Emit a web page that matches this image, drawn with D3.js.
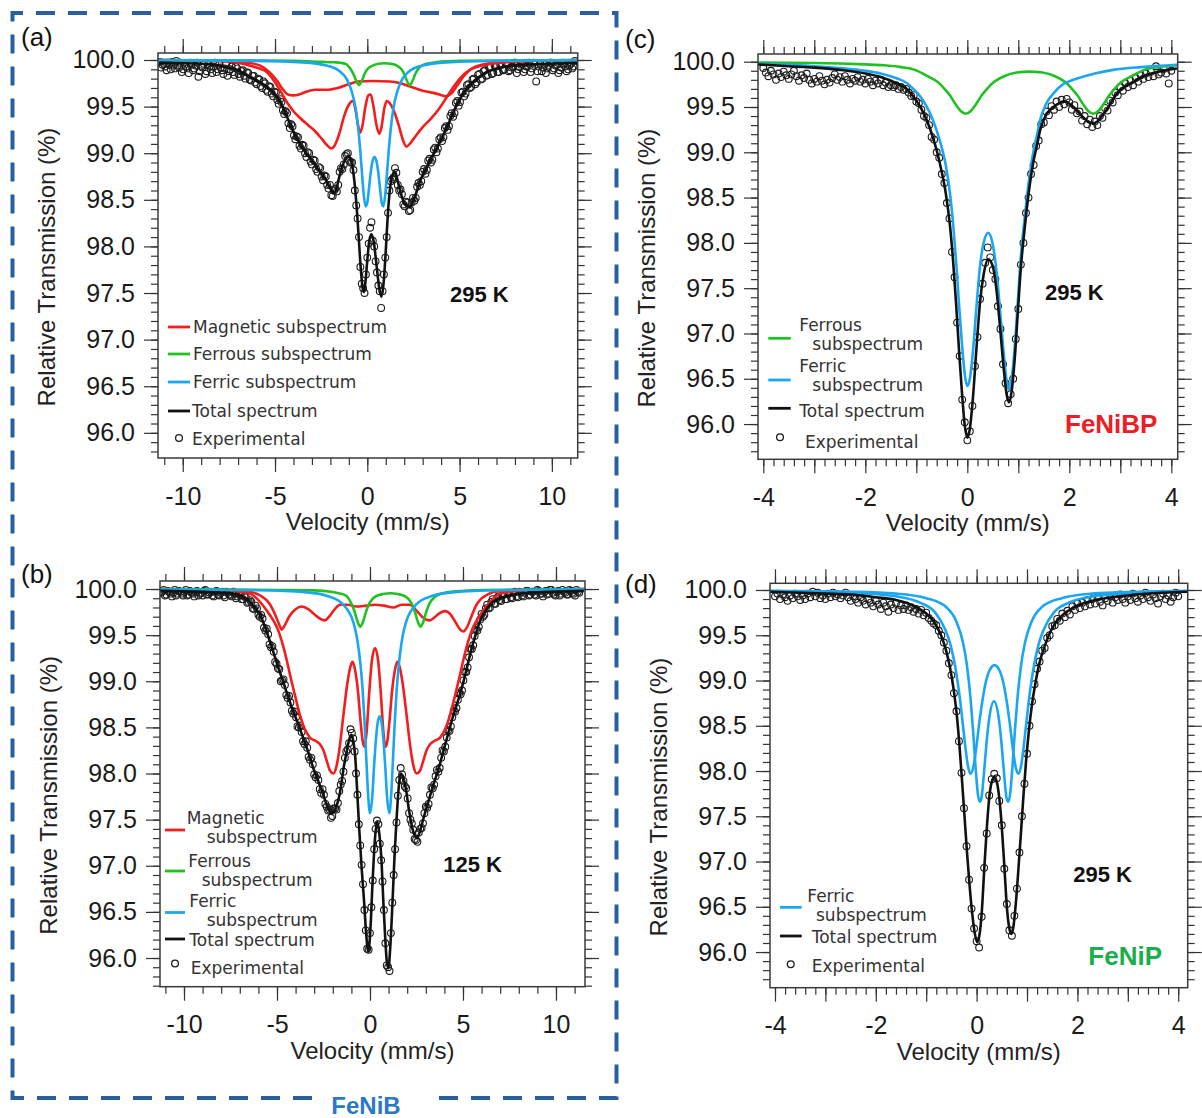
<!doctype html>
<html lang="en">
<head>
<meta charset="utf-8">
<title>Mössbauer spectra: FeNiB, FeNiBP, FeNiP</title>
<script src="https://cdn.jsdelivr.net/npm/d3@7"></script>
<style>
  body { margin: 0; background: #fff; }
  svg { display: block; font-family: "Liberation Sans", Arial, sans-serif; }
</style>
</head>
<body>
<div id="chart"></div>
<script>

// ---------- tick values ----------
var yTickValues = [96.0, 96.5, 97.0, 97.5, 98.0, 98.5, 99.0, 99.5, 100.0];
var yMinorTicks = d3.range(956, 1001).map(function (d) { return d / 10; });
var xTicksWide = [-10, -5, 0, 5, 10];
var xMinorWide = d3.range(-11, 12);
var xTicksNarrow = [-4, -3, -2, -1, 0, 1, 2, 3, 4];
var xMinorNarrow = d3.range(-20, 21).map(function (d) { return d / 5; });

// ---------- panel (a) FeNiB 295 K ----------
var magA1 = [[-11.3,100],[-9,99.995],[-8,99.99],[-7,99.97],[-6.2,99.93],[-5.45,99.87],[-5.0,99.76],[-4.6,99.63],[-4.3,99.53],[-4.0,99.45],[-3.6,99.37],[-3.2,99.3],[-2.8,99.23],[-2.45,99.15],[-2.15,99.08],[-1.95,99.05],[-1.75,99.09],[-1.5,99.22],[-1.25,99.4],[-1.0,99.52],[-0.8,99.56],[-0.65,99.48],[-0.5,99.3],[-0.4,99.22],[-0.28,99.28],[-0.1,99.5],[0.05,99.62],[0.18,99.63],[0.32,99.52],[0.5,99.3],[0.65,99.21],[0.77,99.28],[0.92,99.48],[1.05,99.56],[1.2,99.54],[1.45,99.45],[1.7,99.3],[1.95,99.13],[2.12,99.07],[2.3,99.1],[2.6,99.18],[3.0,99.28],[3.4,99.36],[3.9,99.48],[4.3,99.6],[4.7,99.72],[5.1,99.82],[5.6,99.9],[6.2,99.94],[7.2,99.97],[8.5,99.99],[11.5,100]];
var magA2 = [[-11.3,100],[-8,99.99],[-6.5,99.97],[-5.8,99.94],[-5.3,99.87],[-4.9,99.78],[-4.6,99.69],[-4.3,99.63],[-4.0,99.62],[-3.7,99.63],[-3.3,99.66],[-2.8,99.68],[-2.2,99.68],[-1.6,99.7],[-1.0,99.74],[-0.5,99.77],[0.3,99.775],[1.2,99.77],[1.8,99.75],[2.4,99.71],[3.0,99.67],[3.5,99.65],[3.9,99.63],[4.25,99.61],[4.55,99.64],[4.85,99.72],[5.2,99.82],[5.6,99.9],[6.2,99.95],[7.5,99.98],[11.5,100]];
var ferrousA = [[-11.3,100],[-4,99.99],[-2.5,99.98],[-1.8,99.975],[-1.45,99.97],[-1.15,99.955],[-0.9,99.9],[-0.75,99.85],[-0.65,99.8],[-0.55,99.755],[-0.45,99.73],[-0.35,99.755],[-0.25,99.8],[-0.15,99.85],[0.0,99.9],[0.3,99.94],[0.6,99.96],[0.93,99.965],[1.25,99.96],[1.6,99.94],[1.85,99.9],[2.0,99.85],[2.1,99.8],[2.2,99.755],[2.3,99.73],[2.4,99.755],[2.5,99.8],[2.6,99.85],[2.75,99.9],[3.05,99.95],[3.7,99.975],[5,99.99],[11.5,100]];
var ferricA = [[-11.3,99.998],[-6,99.99],[-3.5,99.974],[-2.2,99.94],[-1.5,99.88],[-1.1,99.79],[-0.84,99.66],[-0.64,99.49],[-0.49,99.26],[-0.39,99.05],[-0.29,98.79],[-0.19,98.55],[-0.09,98.43],[-0.01,98.46],[0.09,98.62],[0.19,98.8],[0.29,98.92],[0.39,98.96],[0.49,98.92],[0.59,98.8],[0.69,98.62],[0.79,98.46],[0.87,98.43],[0.97,98.55],[1.07,98.79],[1.17,99.05],[1.27,99.26],[1.42,99.49],[1.62,99.66],[1.88,99.79],[2.28,99.88],[2.98,99.94],[4.28,99.974],[6.78,99.99],[11.5,99.998]];
var totalA = [[-11.3,99.97],[-9,99.96],[-8,99.94],[-7.5,99.92],[-7,99.89],[-6.4,99.82],[-5.8,99.76],[-5.3,99.69],[-5.0,99.63],[-4.75,99.56],[-4.5,99.46],[-4.2,99.32],[-3.9,99.19],[-3.65,99.1],[-3.3,99.0],[-2.95,98.91],[-2.6,98.81],[-2.2,98.7],[-2.0,98.62],[-1.85,98.57],[-1.7,98.6],[-1.55,98.72],[-1.35,98.86],[-1.05,98.97],[-0.85,98.9],[-0.7,98.7],[-0.55,98.35],[-0.45,98.05],[-0.35,97.75],[-0.25,97.55],[-0.18,97.51],[-0.1,97.62],[0.0,97.85],[0.1,98.05],[0.22,98.13],[0.35,98.05],[0.5,97.8],[0.65,97.55],[0.77,97.46],[0.88,97.6],[1.0,97.95],[1.1,98.3],[1.22,98.6],[1.35,98.75],[1.5,98.8],[1.65,98.7],[1.8,98.58],[2.0,98.47],[2.3,98.42],[2.55,98.52],[2.9,98.72],[3.2,98.84],[3.5,98.96],[3.75,99.05],[4.0,99.15],[4.3,99.27],[4.6,99.41],[4.85,99.52],[5.2,99.64],[5.55,99.73],[6.0,99.81],[6.45,99.87],[7.0,99.91],[7.5,99.93],[8.5,99.95],[10,99.96],[11.4,99.97]];
// experimental, even channels: -11.25 mm/s, step 0.15 mm/s
var expA = [
99.98,99.95,99.93,99.97,99.90,99.94,99.99,99.92,99.87,99.95,
99.91,99.97,99.89,99.94,99.82,99.93,99.96,99.88,99.93,99.86,
99.97,99.90,99.92,99.85,99.95,99.88,99.93,99.84,99.91,99.82,
99.89,99.80,99.86,99.78,99.83,99.74,99.79,99.70,99.75,99.66,
99.71,99.61,99.65,99.53,99.55,99.42,99.43,99.27,99.29,99.15,
99.17,99.05,99.08,98.96,99.00,98.88,98.92,98.80,98.84,98.71,
98.75,98.62,98.55,98.60,98.59,98.80,98.83,98.97,99.00,98.90,
98.82,98.44,98.10,97.60,97.50,97.88,98.20,98.06,97.84,97.58,
97.34,97.70,98.10,98.60,98.72,98.84,98.66,98.61,98.45,98.48,
98.38,98.47,98.49,98.64,98.66,98.80,98.78,98.92,98.90,99.04,
99.01,99.15,99.13,99.27,99.25,99.40,99.39,99.54,99.51,99.65,
99.61,99.73,99.70,99.79,99.74,99.84,99.79,99.88,99.83,99.92,
99.85,99.94,99.87,99.95,99.89,99.96,99.88,99.92,99.97,99.86,
99.93,99.96,99.90,99.94,99.87,99.97,99.77,99.93,99.88,99.95,
99.91,99.97,99.89,99.94,99.86,99.92,99.96,99.88,99.94,99.91,
99.99];
// experimental, odd channels: -11.175 mm/s, step 0.15 mm/s
var expA2 = [
99.92,99.96,99.89,99.95,99.98,99.91,99.94,99.97,99.90,99.93,
99.86,99.95,99.91,99.97,99.88,99.92,99.85,99.95,99.90,99.93,
99.87,99.95,99.89,99.91,99.83,99.90,99.87,99.93,99.85,99.88,
99.83,99.87,99.79,99.83,99.76,99.80,99.72,99.77,99.68,99.72,
99.64,99.66,99.57,99.58,99.46,99.45,99.32,99.31,99.19,99.18,
99.08,99.09,99.00,99.01,98.91,98.93,98.83,98.85,98.75,98.76,
98.66,98.66,98.54,98.62,98.66,98.84,98.88,98.99,98.92,98.90,
98.60,98.30,97.78,97.55,97.70,98.03,98.26,98.00,97.72,97.52,
97.52,97.88,98.36,98.70,98.74,98.79,98.60,98.56,98.43,98.47,
98.39,98.52,98.52,98.68,98.70,98.83,98.82,98.94,98.93,99.06,
99.05,99.17,99.17,99.29,99.29,99.43,99.43,99.56,99.55,99.66,
99.64,99.74,99.71,99.80,99.76,99.85,99.80,99.89,99.84,99.92,
99.86,99.93,99.87,99.95,99.90,99.96,99.89,99.93,99.97,99.90,
99.95,99.87,99.93,99.97,99.91,99.95,99.88,99.96,99.92,99.86,
99.94,99.97,99.91,99.95,99.89,99.97,99.93,99.90,99.96,99.93];

// ---------- panel (b) FeNiB 125 K ----------
var magB1 = [[-11.3,100],[-8,99.99],[-7,99.97],[-6.45,99.95],[-6,99.88],[-5.6,99.78],[-5.2,99.66],[-4.95,99.56],[-4.75,99.44],[-4.5,99.25],[-4.3,99.07],[-4.0,98.82],[-3.76,98.63],[-3.5,98.48],[-3.23,98.39],[-2.9,98.35],[-2.7,98.32],[-2.5,98.25],[-2.3,98.12],[-2.15,98.03],[-1.97,98.0],[-1.8,98.08],[-1.62,98.3],[-1.43,98.63],[-1.2,99.0],[-1.05,99.16],[-0.93,99.21],[-0.8,99.12],[-0.65,98.9],[-0.5,98.55],[-0.4,98.36],[-0.3,98.29],[-0.18,98.45],[-0.05,98.85],[0.1,99.22],[0.27,99.36],[0.44,99.22],[0.59,98.85],[0.72,98.45],[0.84,98.29],[0.94,98.36],[1.04,98.55],[1.19,98.9],[1.34,99.12],[1.47,99.21],[1.59,99.16],[1.74,99.0],[1.97,98.63],[2.16,98.3],[2.34,98.08],[2.51,98.0],[2.69,98.03],[2.84,98.12],[3.04,98.25],[3.24,98.32],[3.44,98.35],[3.77,98.39],[4.04,98.48],[4.3,98.63],[4.54,98.82],[4.84,99.07],[5.04,99.25],[5.29,99.44],[5.49,99.56],[5.74,99.66],[6.14,99.78],[6.54,99.88],[6.99,99.95],[7.54,99.97],[8.54,99.99],[11.6,100]];
var magB2 = [[-11.3,100],[-8,99.99],[-6.5,99.97],[-5.9,99.93],[-5.4,99.84],[-5.05,99.7],[-4.85,99.6],[-4.75,99.56],[-4.6,99.6],[-4.35,99.7],[-4.0,99.78],[-3.67,99.81],[-3.3,99.78],[-2.9,99.71],[-2.6,99.67],[-2.42,99.66],[-2.2,99.7],[-1.9,99.78],[-1.61,99.83],[-1.2,99.83],[-0.72,99.81],[-0.2,99.82],[0.27,99.83],[0.74,99.82],[1.26,99.8],[1.7,99.83],[2.15,99.83],[2.44,99.78],[2.8,99.7],[3.0,99.67],[3.23,99.66],[3.45,99.69],[3.75,99.74],[4.03,99.76],[4.35,99.72],[4.6,99.64],[4.85,99.56],[5.02,99.54],[5.2,99.58],[5.45,99.7],[5.7,99.82],[5.91,99.88],[6.3,99.94],[7,99.98],[8.5,99.99],[11.6,100]];
var ferrousB = [[-11.3,100],[-5,99.99],[-3,99.985],[-2.1,99.97],[-1.7,99.955],[-1.3,99.93],[-1.02,99.85],[-0.82,99.75],[-0.72,99.68],[-0.62,99.62],[-0.52,99.59],[-0.42,99.62],[-0.32,99.68],[-0.22,99.75],[-0.02,99.85],[0.3,99.92],[0.7,99.945],[1.1,99.955],[1.5,99.945],[1.9,99.92],[2.22,99.85],[2.42,99.75],[2.52,99.68],[2.62,99.62],[2.72,99.59],[2.82,99.62],[2.92,99.68],[3.02,99.75],[3.22,99.85],[3.52,99.92],[3.92,99.955],[4.6,99.975],[6,99.99],[11.6,100]];
var ferricB = [[-11.3,99.997],[-6,99.987],[-3.5,99.966],[-2.3,99.925],[-1.7,99.875],[-1.3,99.8],[-1.0,99.7],[-0.8,99.57],[-0.65,99.41],[-0.5,99.16],[-0.4,98.92],[-0.3,98.59],[-0.2,98.17],[-0.1,97.77],[0.0,97.57],[0.12,97.74],[0.22,98.08],[0.32,98.37],[0.42,98.56],[0.52,98.62],[0.62,98.56],[0.72,98.37],[0.82,98.08],[0.92,97.74],[1.04,97.57],[1.14,97.77],[1.24,98.17],[1.34,98.59],[1.44,98.92],[1.54,99.16],[1.69,99.41],[1.84,99.57],[2.04,99.7],[2.34,99.8],[2.74,99.875],[3.34,99.925],[4.54,99.966],[7.04,99.987],[11.6,99.997]];
var totalB = [[-11.3,99.98],[-9,99.97],[-8,99.96],[-7.35,99.95],[-6.9,99.92],[-6.45,99.86],[-6.2,99.8],[-5.91,99.72],[-5.56,99.54],[-5.2,99.32],[-4.9,99.13],[-4.66,98.99],[-4.4,98.83],[-4.12,98.67],[-3.85,98.53],[-3.58,98.38],[-3.3,98.22],[-3.05,98.06],[-2.75,97.9],[-2.51,97.77],[-2.25,97.62],[-2.06,97.57],[-1.85,97.62],[-1.61,97.8],[-1.4,98.08],[-1.25,98.24],[-1.1,98.38],[-1.0,98.42],[-0.88,98.33],[-0.8,98.2],[-0.7,97.85],[-0.57,97.37],[-0.45,96.98],[-0.32,96.62],[-0.2,96.25],[-0.09,96.07],[0.02,96.3],[0.14,96.83],[0.27,97.3],[0.39,97.48],[0.5,97.35],[0.63,97.01],[0.72,96.6],[0.81,96.25],[0.9,95.97],[0.99,95.89],[1.1,96.15],[1.22,96.65],[1.33,97.15],[1.43,97.51],[1.55,97.86],[1.65,98.0],[1.8,97.95],[1.94,97.82],[2.1,97.6],[2.24,97.44],[2.4,97.33],[2.51,97.3],[2.65,97.35],[2.87,97.51],[3.1,97.67],[3.41,97.88],[3.7,98.06],[3.94,98.24],[4.2,98.43],[4.48,98.63],[4.75,98.8],[5.02,98.99],[5.25,99.18],[5.47,99.36],[5.7,99.52],[5.91,99.65],[6.2,99.76],[6.45,99.83],[7.0,99.9],[7.53,99.93],[8.5,99.96],[9.68,99.97],[11.5,99.98]];
// experimental, even channels: -11.25 mm/s, step 0.15 mm/s
var expB = [
99.96,99.99,99.94,99.97,99.92,99.99,99.95,99.97,99.93,99.99,
99.94,99.96,99.92,99.98,99.95,99.93,99.99,99.94,99.97,99.92,
99.98,99.93,99.97,99.91,99.96,99.93,99.97,99.90,99.95,99.89,
99.92,99.85,99.88,99.79,99.82,99.72,99.72,99.58,99.57,99.40,
99.38,99.21,99.14,99.00,99.02,98.85,98.84,98.68,98.67,98.51,
98.52,98.35,98.35,98.18,98.17,97.99,97.98,97.83,97.83,97.67,
97.60,97.52,97.62,97.61,97.81,97.92,98.17,98.26,98.48,98.38,
98.00,97.45,97.01,96.52,96.10,96.27,96.84,97.40,97.45,97.06,
96.52,95.92,95.86,96.60,97.18,97.76,98.06,97.92,97.84,97.57,
97.46,97.29,97.26,97.40,97.46,97.64,97.67,97.85,97.88,98.04,
98.06,98.25,98.29,98.47,98.51,98.68,98.71,98.87,98.90,99.10,
99.15,99.35,99.39,99.56,99.59,99.73,99.72,99.83,99.80,99.89,
99.84,99.92,99.87,99.94,99.89,99.96,99.90,99.97,99.91,99.96,
99.92,99.98,99.93,99.97,99.94,99.99,99.95,99.92,99.98,99.95,
99.99,99.94,99.97,99.93,99.99,99.96,99.94,99.98,99.95,99.99,
99.96];
// experimental, odd channels: -11.175 mm/s, step 0.15 mm/s
var expB2 = [
99.97,99.93,99.98,99.95,99.96,99.93,99.98,99.95,99.97,99.93,
99.98,99.95,99.97,99.93,99.96,99.98,99.94,99.96,99.93,99.97,
99.94,99.96,99.93,99.97,99.94,99.92,99.95,99.92,99.93,99.89,
99.91,99.86,99.86,99.78,99.79,99.70,99.68,99.55,99.51,99.37,
99.32,99.19,99.13,99.01,98.96,98.82,98.77,98.65,98.61,98.50,
98.45,98.32,98.28,98.15,98.10,97.96,97.93,97.79,97.77,97.64,
97.61,97.54,97.62,97.68,97.88,98.02,98.24,98.33,98.44,98.24,
97.77,97.22,96.80,96.30,96.09,96.55,97.18,97.49,97.24,96.83,
96.16,95.90,96.27,96.90,97.47,97.93,97.99,97.86,97.73,97.50,
97.39,97.28,97.36,97.41,97.57,97.63,97.77,97.84,97.97,98.02,
98.17,98.24,98.39,98.46,98.61,98.67,98.80,98.86,99.01,99.10,
99.26,99.35,99.49,99.55,99.67,99.70,99.79,99.79,99.86,99.84,
99.90,99.88,99.93,99.89,99.95,99.91,99.96,99.92,99.97,99.93,
99.96,99.98,99.94,99.97,99.93,99.98,99.95,99.97,99.94,99.99,
99.96,99.93,99.98,99.95,99.97,99.94,99.99,99.96,99.93,99.97];

// ---------- panel (c) FeNiBP 295 K ----------
var ferrousC = [[-4.12,99.99],[-3,99.985],[-2.5,99.98],[-2,99.97],[-1.63,99.96],[-1.3,99.94],[-1.03,99.91],[-0.78,99.84],[-0.58,99.775],[-0.43,99.69],[-0.33,99.62],[-0.23,99.53],[-0.13,99.456],[-0.03,99.425],[0.07,99.456],[0.17,99.53],[0.27,99.62],[0.37,99.69],[0.52,99.775],[0.72,99.84],[0.97,99.88],[1.22,99.89],[1.47,99.88],[1.72,99.84],[1.92,99.775],[2.07,99.69],[2.17,99.62],[2.27,99.53],[2.37,99.456],[2.47,99.425],[2.57,99.456],[2.67,99.53],[2.77,99.62],[2.87,99.69],[3.02,99.775],[3.22,99.84],[3.47,99.91],[3.75,99.94],[4.11,99.96]];
var ferricC = [[-4.12,99.975],[-3.5,99.965],[-3,99.95],[-2.5,99.93],[-2,99.9],[-1.7,99.87],[-1.4,99.82],[-1.2,99.77],[-1.06,99.7],[-0.9,99.6],[-0.73,99.43],[-0.6,99.24],[-0.5,99.05],[-0.42,98.85],[-0.34,98.55],[-0.28,98.22],[-0.22,97.8],[-0.16,97.3],[-0.1,96.85],[-0.05,96.55],[0,96.42],[0.05,96.5],[0.11,96.8],[0.18,97.3],[0.25,97.75],[0.32,98.0],[0.41,98.11],[0.5,97.98],[0.58,97.65],[0.65,97.2],[0.71,96.8],[0.77,96.48],[0.82,96.38],[0.87,96.5],[0.93,96.85],[0.99,97.35],[1.05,97.85],[1.12,98.25],[1.2,98.65],[1.29,98.99],[1.37,99.2],[1.43,99.36],[1.55,99.54],[1.69,99.65],[1.9,99.76],[2.08,99.8],[2.5,99.87],[2.86,99.91],[3.4,99.94],[3.97,99.96],[4.11,99.965]];
var totalC = [[-4.12,99.97],[-3.5,99.95],[-3.0,99.935],[-2.5,99.91],[-2.0,99.87],[-1.7,99.83],[-1.4,99.765],[-1.2,99.705],[-1.06,99.615],[-0.9,99.48],[-0.73,99.26],[-0.6,99.02],[-0.5,98.78],[-0.42,98.54],[-0.34,98.19],[-0.28,97.81],[-0.22,97.33],[-0.16,96.79],[-0.1,96.31],[-0.05,95.985],[0,95.85],[0.05,95.95],[0.11,96.29],[0.18,96.84],[0.25,97.35],[0.32,97.65],[0.41,97.82],[0.5,97.74],[0.58,97.44],[0.65,97.015],[0.71,96.635],[0.77,96.33],[0.82,96.24],[0.87,96.365],[0.93,96.725],[0.99,97.23],[1.05,97.73],[1.12,98.135],[1.2,98.54],[1.29,98.88],[1.37,99.09],[1.43,99.25],[1.55,99.42],[1.69,99.5],[1.9,99.56],[2.08,99.5],[2.2,99.43],[2.3,99.37],[2.4,99.33],[2.47,99.32],[2.55,99.34],[2.65,99.41],[2.77,99.5],[2.87,99.6],[3.02,99.695],[3.22,99.765],[3.47,99.845],[3.75,99.89],[4.11,99.925]];
// experimental channels: -4.00 mm/s, step 0.05 mm/s
var expC = [
99.93,99.88,99.84,99.90,99.86,99.80,99.87,99.83,99.89,99.85,
99.81,99.86,99.90,99.84,99.79,99.85,99.82,99.87,99.80,99.76,
99.81,99.78,99.84,99.79,99.75,99.80,99.77,99.82,99.86,99.80,
99.83,99.78,99.84,99.80,99.76,99.81,99.79,99.83,99.78,99.80,
99.76,99.81,99.78,99.74,99.79,99.76,99.80,99.74,99.77,99.72,
99.74,99.72,99.74,99.70,99.72,99.69,99.70,99.66,99.62,99.63,
99.56,99.54,99.47,99.40,99.38,99.30,99.17,99.14,99.00,98.94,
98.76,98.66,98.44,98.27,97.90,97.62,97.12,96.75,96.27,96.02,
95.82,95.92,96.20,96.64,96.96,97.38,97.55,97.78,97.95,97.84,
97.70,97.60,97.30,97.05,96.66,96.45,96.23,96.33,96.50,96.94,
97.27,97.76,98.00,98.33,98.50,98.76,98.86,99.07,99.13,99.31,
99.33,99.45,99.41,99.51,99.47,99.56,99.50,99.58,99.53,99.59,
99.55,99.47,99.52,99.43,99.45,99.35,99.40,99.31,99.36,99.28,
99.34,99.30,99.40,99.38,99.49,99.46,99.57,99.55,99.66,99.63,
99.72,99.68,99.76,99.72,99.79,99.74,99.82,99.78,99.85,99.81,
99.87,99.83,99.89,99.84,99.95,99.86,99.88,99.92,99.87,99.76,
99.90];

// ---------- panel (d) FeNiP 295 K ----------
var ferricD1 = [[-4.1,99.987],[-2.5,99.97],[-1.6,99.93],[-1.12,99.86],[-0.82,99.75],[-0.62,99.56],[-0.52,99.4],[-0.42,99.14],[-0.37,98.96],[-0.32,98.75],[-0.27,98.5],[-0.22,98.25],[-0.17,98.05],[-0.12,97.97],[-0.07,98.03],[-0.02,98.2],[0.055,98.54],[0.105,98.74],[0.155,98.91],[0.255,99.11],[0.355,99.17],[0.455,99.11],[0.555,98.91],[0.605,98.74],[0.655,98.54],[0.73,98.2],[0.78,98.03],[0.83,97.97],[0.88,98.05],[0.93,98.25],[0.98,98.5],[1.03,98.75],[1.08,98.96],[1.13,99.14],[1.23,99.4],[1.33,99.56],[1.53,99.75],[1.83,99.86],[2.31,99.93],[3.21,99.97],[4.2,99.987]];
var ferricD2 = [[-4.1,99.99],[-2.5,99.98],[-1.6,99.96],[-1.0,99.91],[-0.6,99.81],[-0.4,99.65],[-0.27,99.42],[-0.19,99.16],[-0.12,98.8],[-0.07,98.45],[-0.02,98.04],[0.02,97.77],[0.06,97.66],[0.095,97.7],[0.145,97.97],[0.195,98.3],[0.245,98.56],[0.345,98.77],[0.445,98.56],[0.495,98.3],[0.545,97.97],[0.595,97.7],[0.63,97.66],[0.67,97.77],[0.71,98.04],[0.76,98.45],[0.81,98.8],[0.88,99.16],[0.96,99.42],[1.09,99.65],[1.29,99.81],[1.69,99.91],[2.29,99.96],[3.19,99.98],[4.2,99.99]];
var totalD = [[-4.1,99.98],[-3,99.96],[-2.5,99.95],[-2,99.92],[-1.6,99.89],[-1.4,99.86],[-1.2,99.81],[-1.0,99.74],[-0.85,99.65],[-0.72,99.52],[-0.62,99.36],[-0.53,99.15],[-0.45,98.88],[-0.39,98.6],[-0.34,98.28],[-0.29,97.9],[-0.24,97.5],[-0.19,97.1],[-0.14,96.74],[-0.09,96.44],[-0.04,96.22],[0.01,96.11],[0.06,96.2],[0.1,96.42],[0.15,96.9],[0.2,97.35],[0.25,97.7],[0.3,97.88],[0.35,97.93],[0.4,97.88],[0.45,97.7],[0.5,97.38],[0.55,96.95],[0.6,96.5],[0.65,96.26],[0.69,96.2],[0.73,96.28],[0.78,96.55],[0.83,96.92],[0.88,97.32],[0.93,97.73],[0.98,98.1],[1.04,98.46],[1.1,98.74],[1.17,98.98],[1.25,99.2],[1.35,99.38],[1.5,99.58],[1.7,99.72],[1.9,99.8],[2.3,99.88],[3,99.94],[4.2,99.98]];
// experimental channels: -4.00 mm/s, step 0.05 mm/s
var expD = [
99.93,99.96,99.90,99.95,99.92,99.88,99.94,99.91,99.96,99.93,
99.89,99.94,99.90,99.96,99.92,99.98,99.93,99.97,99.91,99.94,
99.90,99.96,99.92,99.97,99.93,99.95,99.91,99.94,99.97,99.92,
99.88,99.93,99.90,99.86,99.92,99.88,99.84,99.90,99.86,99.82,
99.88,99.84,99.79,99.86,99.82,99.76,99.84,99.80,99.85,99.78,
99.83,99.79,99.83,99.78,99.81,99.76,99.79,99.74,99.78,99.72,
99.75,99.69,99.66,99.63,99.61,99.55,99.50,99.42,99.33,99.19,
99.06,98.86,98.66,98.33,97.98,97.59,97.17,96.80,96.48,96.26,
96.12,96.05,96.39,96.93,97.31,97.73,97.91,97.97,97.92,97.67,
97.40,96.92,96.53,96.24,96.18,96.40,96.70,97.10,97.50,97.86,
98.19,98.50,98.77,98.96,99.13,99.21,99.33,99.36,99.47,99.50,
99.60,99.61,99.68,99.66,99.74,99.70,99.77,99.73,99.82,99.78,
99.85,99.80,99.86,99.82,99.89,99.84,99.90,99.85,99.92,99.87,
99.83,99.91,99.88,99.93,99.86,99.92,99.89,99.95,99.90,99.86,
99.93,99.89,99.96,99.91,99.87,99.94,99.90,99.97,99.92,99.88,
99.95,99.91,99.85,99.93,99.96,99.90,99.94,99.87,99.92,99.97,
99.93];

// ---------- styles ----------
var colors = {
  mag: "#f21d1d",
  ferrous: "#20c120",
  ferric: "#1aa6f0",
  total: "#111111",
  exp: "#1c1c1c",
  frame: "#3a3a3a",
  box: "#2a5f9f"
};

// ---------- layout of each panel ----------
var panels = [
  {
    left: 158, top: 53, right: 577.7, bottom: 458,
    xDom: [-11.34, 11.40], yDom: [95.73, 100.075], wide: true,
    comps: [[magA2, "mag"], [magA1, "mag"], [ferrousA, "ferrous"], [ferricA, "ferric"]],
    total: totalA, exps: [[expA, -11.25, 0.15], [expA2, -11.175, 0.15]],
    label: "(a)", labelX: 21, labelY: 46,
    temp: "295 K", tempX: 450, tempY: 302,
    legend: [
      { c: "mag", x1: 168, x2: 190, y: 327, text: [["Magnetic subspectrum", 193, 332.5]] },
      { c: "ferrous", x1: 168, x2: 190, y: 354, text: [["Ferrous subspectrum", 193, 359.5]] },
      { c: "ferric", x1: 168, x2: 190, y: 382, text: [["Ferric subspectrum", 193, 388]] },
      { c: "total", x1: 168, x2: 190, y: 411, text: [["Total spectrum", 192, 417]] },
      { c: "exp", cx: 179, y: 438, text: [["Experimental", 192, 445]] }
    ]
  },
  {
    left: 160, top: 581, right: 585, bottom: 986.7,
    xDom: [-11.29, 11.56], yDom: [95.689, 100.087], wide: true,
    comps: [[magB2, "mag"], [magB1, "mag"], [ferrousB, "ferrous"], [ferricB, "ferric"]],
    total: totalB, exps: [[expB, -11.25, 0.15], [expB2, -11.175, 0.15]],
    label: "(b)", labelX: 21, labelY: 583,
    temp: "125 K", tempX: 443.3, tempY: 872.3,
    legend: [
      { c: "mag", x1: 165, x2: 185, y: 830, text: [["Magnetic", 186.7, 823.5], ["subspectrum", 206.7, 843]] },
      { c: "ferrous", x1: 165, x2: 185, y: 871, text: [["Ferrous", 188.3, 866.5], ["subspectrum", 201.7, 885.5]] },
      { c: "ferric", x1: 165, x2: 185, y: 912.5, text: [["Ferric", 189.3, 907], ["subspectrum", 206.7, 926]] },
      { c: "total", x1: 165, x2: 185, y: 939, text: [["Total spectrum", 189.3, 945.5]] },
      { c: "exp", cx: 175, y: 963.5, text: [["Experimental", 190.7, 974.3]] }
    ]
  },
  {
    left: 758, top: 54, right: 1177.7, bottom: 459.3,
    xDom: [-4.104, 4.125], yDom: [95.611, 100.085], wide: false,
    comps: [[ferrousC, "ferrous"], [ferricC, "ferric"]],
    total: totalC, exps: [[expC, -4.0, 0.05]],
    label: "(c)", labelX: 625, labelY: 48,
    temp: "295 K", tempX: 1045, tempY: 300,
    legend: [
      { c: "ferrous", x1: 768.3, x2: 790.7, y: 338.3, text: [["Ferrous", 799.3, 330.5], ["subspectrum", 812.3, 349.5]] },
      { c: "ferric", x1: 768.3, x2: 790.7, y: 380, text: [["Ferric", 799.3, 371.5], ["subspectrum", 812.3, 390.5]] },
      { c: "total", x1: 768.3, x2: 790.7, y: 408.3, text: [["Total spectrum", 799.3, 416.7]] },
      { c: "exp", cx: 780, y: 437.3, text: [["Experimental", 805, 448.3]] }
    ]
  },
  {
    left: 770, top: 583.3, right: 1187.7, bottom: 987.7,
    xDom: [-4.099, 4.188], yDom: [95.606, 100.074], wide: false,
    comps: [[ferricD1, "ferric"], [ferricD2, "ferric"]],
    total: totalD, exps: [[expD, -4.0, 0.05]],
    label: "(d)", labelX: 625, labelY: 593,
    temp: "295 K", tempX: 1073.3, tempY: 881.7,
    legend: [
      { c: "ferric", x1: 780, x2: 801.7, y: 907.3, text: [["Ferric", 807.3, 902], ["subspectrum", 816, 921]] },
      { c: "total", x1: 780, x2: 801.7, y: 936, text: [["Total spectrum", 811.7, 942.7]] },
      { c: "exp", cx: 790.7, y: 964.3, text: [["Experimental", 811.7, 971.7]] }
    ]
  }
];

var svg = d3.select("#chart").append("svg")
    .attr("width", 1202)
    .attr("height", 1118);

// dashed box round the FeNiB panels (a) and (b)
svg.append("path")
    .attr("d", "M312,1098 H12.5 V13 H616.5 V1098 H428")
    .attr("fill", "none")
    .attr("stroke", colors.box)
    .attr("stroke-width", 4)
    .attr("stroke-dasharray", "19,13");

// style one axis group
function styleAxis(g, fontSize) {
    g.select(".domain").remove();
    g.attr("font-size", null).attr("font-family", null);
    g.selectAll(".tick line").attr("stroke", "#333").attr("stroke-width", 1.2);
    g.selectAll(".tick text")
        .attr("fill", "#1a1a1a")
        .style("font-size", fontSize + "px");
}

function drawPanel(p, idx) {
    var x = d3.scaleLinear().domain(p.xDom).range([p.left, p.right]);
    var y = d3.scaleLinear().domain(p.yDom).range([p.bottom, p.top]);
    var g = svg.append("g");

    var clipId = "clip" + idx;
    g.append("clipPath").attr("id", clipId)
        .append("rect")
        .attr("x", p.left).attr("y", p.top)
        .attr("width", p.right - p.left).attr("height", p.bottom - p.top);

    var yMinor = yMinorTicks.filter(function (d) { return d >= p.yDom[0] && d <= p.yDom[1]; });
    var xMinor = (p.wide ? xMinorWide : xMinorNarrow).filter(function (d) { return d >= p.xDom[0] && d <= p.xDom[1]; });
    var xMajor = p.wide ? xTicksWide : xTicksNarrow;
    var xLabel = p.wide
        ? function (d) { return String(d); }
        : function (d) { return d % 2 === 0 ? String(d) : ""; };

    // left
    styleAxis(g.append("g").attr("transform", "translate(" + p.left + ",0)")
        .call(d3.axisLeft(y).tickValues(yMinor).tickSize(7).tickFormat("")), 25);
    styleAxis(g.append("g").attr("transform", "translate(" + p.left + ",0)")
        .call(d3.axisLeft(y).tickValues(yTickValues).tickSize(14).tickPadding(9)
            .tickFormat(d3.format(".1f"))), 25);
    // right
    styleAxis(g.append("g").attr("transform", "translate(" + p.right + ",0)")
        .call(d3.axisRight(y).tickValues(yMinor).tickSize(7).tickFormat("")), 25);
    styleAxis(g.append("g").attr("transform", "translate(" + p.right + ",0)")
        .call(d3.axisRight(y).tickValues(yTickValues).tickSize(14).tickFormat("")), 25);
    // top
    styleAxis(g.append("g").attr("transform", "translate(0," + p.top + ")")
        .call(d3.axisTop(x).tickValues(xMinor).tickSize(7).tickFormat("")), 25);
    styleAxis(g.append("g").attr("transform", "translate(0," + p.top + ")")
        .call(d3.axisTop(x).tickValues(xMajor).tickSize(14).tickFormat("")), 25);
    // bottom
    styleAxis(g.append("g").attr("transform", "translate(0," + p.bottom + ")")
        .call(d3.axisBottom(x).tickValues(xMinor).tickSize(7).tickFormat("")), 25);
    styleAxis(g.append("g").attr("transform", "translate(0," + p.bottom + ")")
        .call(d3.axisBottom(x).tickValues(xMajor).tickSize(14).tickPadding(15).tickFormat(xLabel)), 25);

    var line = d3.line()
        .x(function (d) { return x(d[0]); })
        .y(function (d) { return y(d[1]); })
        .curve(d3.curveMonotoneX);

    var plot = g.append("g").attr("clip-path", "url(#" + clipId + ")");

    // experimental points (one set per channel series)
    p.exps.forEach(function (e) {
        plot.append("g").selectAll("circle")
            .data(e[0])
            .enter().append("circle")
            .attr("cx", function (d, i) { return x(e[1] + i * e[2]); })
            .attr("cy", function (d) { return y(d); })
            .attr("r", 3.4)
            .attr("fill", "none")
            .attr("stroke", colors.exp)
            .attr("stroke-width", 1.1);
    });

    // fitted subspectra
    p.comps.forEach(function (c) {
        plot.append("path")
            .datum(c[0])
            .attr("d", line)
            .attr("fill", "none")
            .attr("stroke", colors[c[1]])
            .attr("stroke-width", 2.6);
    });

    // total fit
    plot.append("path")
        .datum(p.total)
        .attr("d", line)
        .attr("fill", "none")
        .attr("stroke", colors.total)
        .attr("stroke-width", 2.6);

    // frame
    g.append("rect")
        .attr("x", p.left).attr("y", p.top)
        .attr("width", p.right - p.left).attr("height", p.bottom - p.top)
        .attr("fill", "none")
        .attr("stroke", colors.frame)
        .attr("stroke-width", 1.5);

    // axis titles
    g.append("text")
        .attr("transform", "translate(" + (p.left - 103) + "," + ((p.top + p.bottom) / 2 + 11.5) + ") rotate(-90)")
        .attr("text-anchor", "middle")
        .attr("fill", "#222")
        .style("font-size", "24px")
        .text("Relative Transmission (%)");
    g.append("text")
        .attr("x", (p.left + p.right) / 2)
        .attr("y", p.bottom + 72)
        .attr("text-anchor", "middle")
        .attr("fill", "#222")
        .style("font-size", "24px")
        .text("Velocity (mm/s)");

    // panel letter and temperature
    g.append("text")
        .attr("x", p.labelX).attr("y", p.labelY)
        .attr("fill", "#111")
        .style("font-size", "26px")
        .text(p.label);
    g.append("text")
        .attr("x", p.tempX).attr("y", p.tempY)
        .attr("fill", "#111")
        .style("font-size", "22px")
        .style("font-weight", "bold")
        .text(p.temp);

    // legend
    var lg = g.append("g").style("font-family", "'DejaVu Sans', Verdana, sans-serif");
    p.legend.forEach(function (item) {
        if (item.c === "exp") {
            lg.append("circle")
                .attr("cx", item.cx).attr("cy", item.y).attr("r", 3.4)
                .attr("fill", "none").attr("stroke", colors.exp).attr("stroke-width", 1.3);
        } else {
            lg.append("line")
                .attr("x1", item.x1).attr("x2", item.x2)
                .attr("y1", item.y).attr("y2", item.y)
                .attr("stroke", colors[item.c]).attr("stroke-width", 2.8);
        }
        item.text.forEach(function (t) {
            lg.append("text")
                .attr("x", t[1]).attr("y", t[2])
                .attr("fill", "#333")
                .style("font-size", "17px")
                .text(t[0]);
        });
    });
}

panels.forEach(drawPanel);

// sample names
svg.append("text")
    .attr("x", 1065).attr("y", 433.3)
    .attr("fill", "#ee1c24")
    .style("font-size", "26px").style("font-weight", "bold")
    .text("FeNiBP");
svg.append("text")
    .attr("x", 1088.3).attr("y", 965)
    .attr("fill", "#1cae4a")
    .style("font-size", "26px").style("font-weight", "bold")
    .text("FeNiP");
svg.append("text")
    .attr("x", 366).attr("y", 1114)
    .attr("text-anchor", "middle")
    .attr("fill", "#2b79c2")
    .style("font-size", "24px").style("font-weight", "bold")
    .text("FeNiB");

</script>
</body>
</html>
